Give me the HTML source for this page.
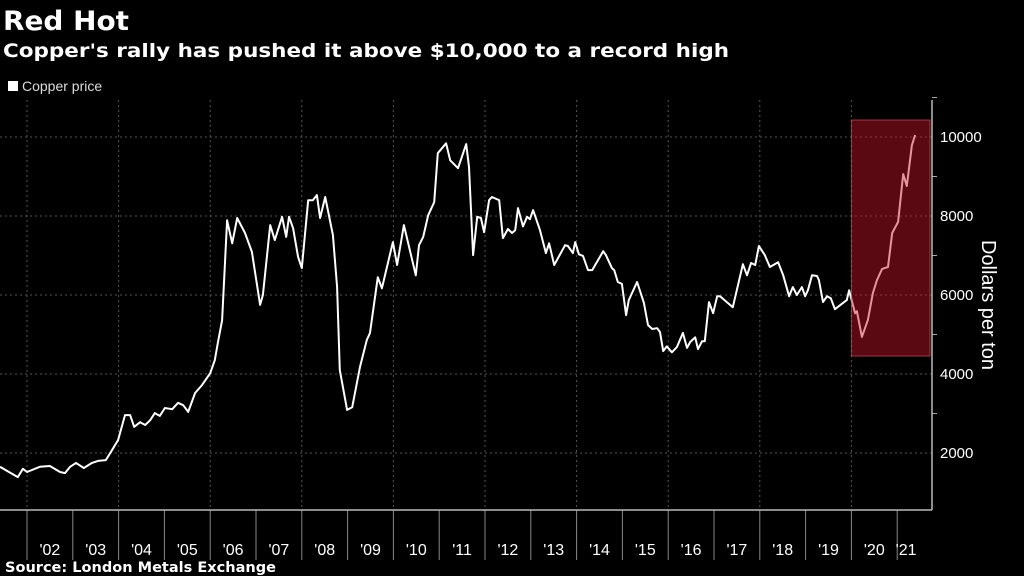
<!DOCTYPE html>
<html><head><meta charset="utf-8"><style>
body{margin:0;background:#000;width:1024px;height:576px;overflow:hidden;font-family:"Liberation Sans",sans-serif;color:#fff}
svg{position:absolute;left:0;top:0}
.w{font-family:"DejaVu Sans","Liberation Sans",sans-serif}
</style></head><body>
<svg id="c" width="1024" height="576">
<text class="w" x="3" y="30" font-size="27" font-weight="bold" fill="#fff" textLength="126" lengthAdjust="spacingAndGlyphs">Red Hot</text>
<text class="w" x="3" y="57" font-size="19" font-weight="bold" fill="#fff" textLength="726" lengthAdjust="spacingAndGlyphs">Copper's rally has pushed it above $10,000 to a record high</text>
<rect x="8" y="81" width="10" height="10" fill="#fff"/>
<text x="22" y="91" font-size="14" fill="#ddd">Copper price</text>
<text class="w" x="5" y="572" font-size="14" font-weight="bold" fill="#fff" textLength="271" lengthAdjust="spacingAndGlyphs">Source: London Metals Exchange</text>
<text transform="translate(982,305) rotate(90)" text-anchor="middle" font-size="20" fill="#fff">Dollars per ton</text>
<g id="grid"></g><g id="axes"></g><g id="series"></g><g id="hl"></g>
</svg>
<script>
const yearLabels=["'02","'03","'04","'05","'06","'07","'08","'09","'10","'11","'12","'13","'14","'15","'16","'17","'18","'19","'20","'21"];
const yTicks=[2000,4000,6000,8000,10000];
const dates=[2001.41,2001.80,2001.91,2002.00,2002.28,2002.50,2002.72,2002.83,2002.94,2003.07,2003.24,2003.42,2003.55,2003.72,2003.86,2003.99,2004.14,2004.25,2004.34,2004.47,2004.58,2004.69,2004.79,2004.90,2005.01,2005.17,2005.30,2005.41,2005.52,2005.67,2005.82,2006.00,2006.10,2006.17,2006.26,2006.37,2006.48,2006.59,2006.76,2006.91,2007.09,2007.15,2007.31,2007.41,2007.57,2007.66,2007.72,2007.81,2007.92,2008.00,2008.14,2008.24,2008.33,2008.40,2008.51,2008.68,2008.77,2008.83,2008.99,2009.10,2009.27,2009.42,2009.49,2009.66,2009.75,2009.99,2010.08,2010.23,2010.49,2010.56,2010.65,2010.76,2010.89,2010.97,2011.15,2011.24,2011.41,2011.59,2011.65,2011.74,2011.83,2011.91,2011.98,2012.09,2012.15,2012.31,2012.39,2012.50,2012.59,2012.66,2012.72,2012.83,2012.92,2012.98,2013.05,2013.20,2013.33,2013.40,2013.51,2013.75,2013.81,2013.92,2013.97,2014.05,2014.14,2014.25,2014.34,2014.58,2014.64,2014.77,2014.82,2014.90,2014.99,2015.08,2015.14,2015.32,2015.47,2015.56,2015.65,2015.76,2015.82,2015.89,2015.97,2016.08,2016.19,2016.32,2016.41,2016.48,2016.59,2016.65,2016.74,2016.80,2016.89,2016.98,2017.07,2017.13,2017.41,2017.63,2017.72,2017.81,2017.90,2017.98,2018.11,2018.22,2018.40,2018.51,2018.64,2018.72,2018.81,2018.92,2018.99,2019.05,2019.14,2019.25,2019.29,2019.38,2019.47,2019.55,2019.64,2019.90,2019.95,2020.08,2020.12,2020.23,2020.36,2020.47,2020.56,2020.67,2020.80,2020.89,2021.02,2021.13,2021.21,2021.32,2021.39];
const prices=[1650,1390,1600,1520,1650,1670,1520,1490,1650,1750,1620,1750,1800,1820,2080,2330,2960,2960,2660,2780,2710,2830,3010,2940,3140,3110,3270,3210,3040,3520,3720,4020,4350,4810,5360,7890,7310,7950,7570,7090,5750,6000,7770,7390,7980,7470,7980,7690,6960,6680,8400,8400,8530,7950,8480,7520,6200,4100,3090,3160,4180,4860,5040,6450,6170,7340,6760,7770,6500,7260,7470,8020,8350,9590,9840,9410,9210,9820,9240,7010,7980,7950,7590,8400,8480,8400,7440,7670,7570,7640,8200,7740,7980,7920,8150,7640,7060,7310,6760,7260,7240,7060,7340,7030,6990,6630,6630,7110,7010,6680,6630,6330,6280,5490,5870,6330,5800,5240,5140,5160,5060,4580,4700,4550,4680,5040,4660,4810,4930,4630,4830,4830,5820,5540,5970,5970,5690,6780,6500,6810,6760,7240,7010,6710,6830,6500,5970,6200,6000,6200,5970,6120,6500,6480,6380,5820,5970,5920,5640,5870,6120,5540,5590,4940,5370,6050,6380,6660,6710,7570,7850,9060,8760,9790,10050];
const NS="http://www.w3.org/2000/svg";
const X=t=>27+(t-2002)*45.8;
const Y=v=>453-(v-2000)*79/2000;
function mk(tag,attrs,parent){const e=document.createElementNS(NS,tag);for(const k in attrs)e.setAttribute(k,attrs[k]);document.getElementById(parent).appendChild(e);return e;}
yTicks.forEach(v=>{
  const g=mk('line',{x1:0,x2:932,y1:Y(v),y2:Y(v),stroke:'#555','stroke-width':1,'stroke-dasharray':'2,3'},'grid');
  
  
  const t=mk('text',{x:940,y:Y(v)+5,'font-size':15,fill:'#fff'},'axes');t.textContent=v;
  
  
});
for(let i=0;i<5;i++){const v=3000+i*2000;const tk=mk('line',{x1:932,x2:937,y1:Y(v),y2:Y(v),stroke:'#aaa'},'axes');
  
  }
yearLabels.forEach((lab,i)=>{
  const yr=2002+i;
  if(i%2==0){const g=mk('line',{x1:X(yr),x2:X(yr),y1:100,y2:510,stroke:'#555','stroke-dasharray':'2,3'},'grid');
    
    }
  const tk=mk('line',{x1:X(yr),x2:X(yr),y1:510,y2:560,stroke:'#888'},'axes');
  
  
  const cx=i==yearLabels.length-1?X(yr)+(915-X(yr))/2:X(yr+0.5);
  const t=mk('text',{x:cx,y:555,'font-size':16,fill:'#fff','text-anchor':'middle'},'axes');t.textContent=lab;
  
  
});
const ax=mk('line',{x1:0,x2:932,y1:510,y2:510,stroke:'#bbb','stroke-width':1.5},'axes');


const ay=mk('line',{x1:932,x2:932,y1:100,y2:510,stroke:'#bbb','stroke-width':1.5},'axes');


const d=dates.map((t,i)=>(i?'L':'M')+X(t).toFixed(1)+','+Y(prices[i]).toFixed(1)).join('');
const p=mk('path',{d:d,fill:'none',stroke:'#fff','stroke-width':2,'stroke-linejoin':'round'},'series');


const r=mk('rect',{x:X(2020),y:120,width:930-X(2020),height:236,fill:'rgba(200,20,40,0.45)',stroke:'rgba(230,90,100,0.6)','stroke-width':1},'hl');


</script>
</body></html>
